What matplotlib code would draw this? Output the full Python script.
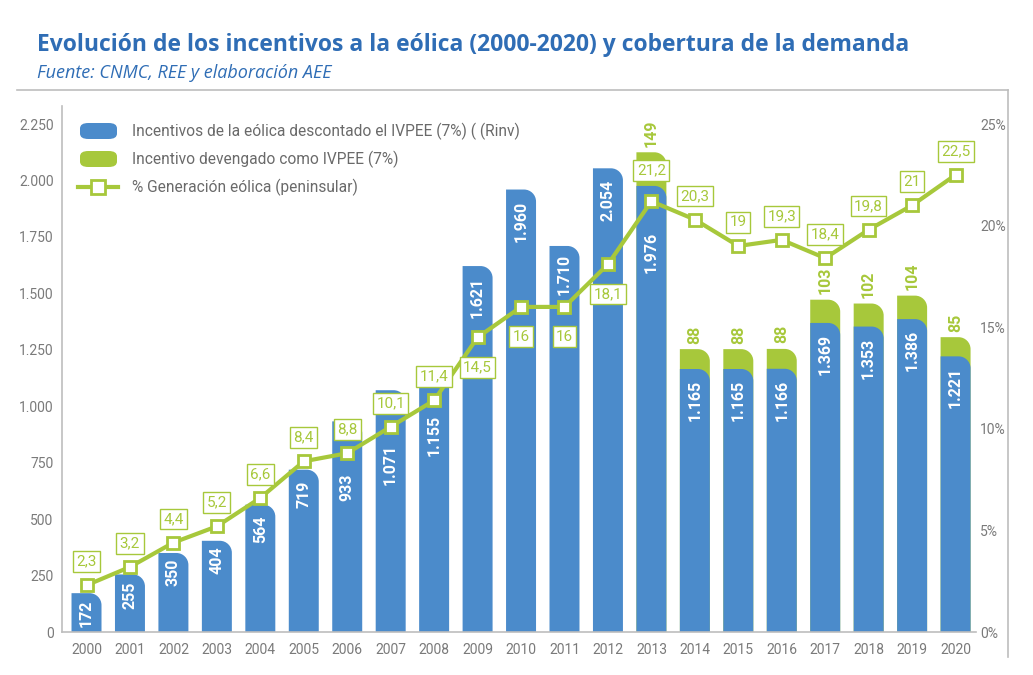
import matplotlib
matplotlib.use('Agg')
from matplotlib import pyplot as plt
from matplotlib.path import Path
from matplotlib.patches import PathPatch, FancyBboxPatch
from matplotlib.lines import Line2D

years = [str(y) for y in range(2000, 2021)]
incentivo = [172, 255, 350, 404, 564, 719, 933, 1071, 1155, 1621, 1960,
             1710, 2054, 1976, 1165, 1165, 1166, 1369, 1353, 1386, 1221]
ivpee = [0, 0, 0, 0, 0, 0, 0, 0, 0, 0, 0, 0, 0,
         149, 88, 88, 88, 103, 102, 104, 85]
generacion = [2.3, 3.2, 4.4, 5.2, 6.6, 8.4, 8.8, 10.1, 11.4, 14.5, 16,
              16, 18.1, 21.2, 20.3, 19, 19.3, 18.4, 19.8, 21, 22.5]
left_ticks = [0, 250, 500, 750, 1000, 1250, 1500, 1750, 2000, 2250]
right_ticks = [0, 5, 10, 15, 20, 25]

BLUE = '#4b8bcb'
GREEN = '#a7c83b'
TITLE = '#2f6db5'
GREY = '#7a7a7a'
FRAME = '#bdbdbd'

plt.rcParams['font.family'] = ['Roboto', 'DejaVu Sans']

W, H = 1033, 675
fig = plt.figure(figsize=(W / 100, H / 100), dpi=100)

ax_l, ax_r, ax_b, ax_t = 62, 976, 632, 106
ax = fig.add_axes([ax_l / W, 1 - ax_b / H, (ax_r - ax_l) / W, (ax_b - ax_t) / H])
ymax = 2330
ax.set_xlim(-0.564, 20.47)
ax.set_ylim(0, ymax)
ax2 = ax.twinx()
ax2.set_ylim(0, ymax / 2250 * 25)

# pixel scale for rounded corners
p0 = ax.transData.transform((0, 0))
p1 = ax.transData.transform((1, 1))
px_x = p1[0] - p0[0]
px_y = p1[1] - p0[1]


def round_bar(x, bottom, top, width, color, r_px=12):
    x0 = x - width / 2
    x1 = x + width / 2
    rx = min(r_px / px_x, width / 2)
    ry = min(r_px / px_y, (top - bottom))
    k = 0.5523
    verts = [(x0, bottom), (x1, bottom), (x1, top - ry),
             (x1, top - ry + k * ry), (x1 - rx + k * rx, top), (x1 - rx, top),
             (x0, top), (x0, bottom)]
    codes = [Path.MOVETO, Path.LINETO, Path.LINETO,
             Path.CURVE4, Path.CURVE4, Path.CURVE4,
             Path.LINETO, Path.CLOSEPOLY]
    ax.add_patch(PathPatch(Path(verts, codes), facecolor=color, edgecolor='none', zorder=2))


# label gap below the bar top, px (pushed down where the line crosses)
label_shift = {0: 6, 1: 7, 2: 6, 3: 6, 6: 52, 7: 54, 8: 44, 11: 8, 13: 46}

bw = 0.69
for i, (b, g) in enumerate(zip(incentivo, ivpee)):
    if g > 0:
        round_bar(i, 0, b + g, bw, GREEN)
        ax.annotate(str(g), (i, b + g), xytext=(0, 4), textcoords='offset points',
                    rotation=90, ha='center', va='bottom', color=GREEN,
                    fontsize=11.5, fontweight='bold', zorder=3)
    round_bar(i, 0, b, bw, BLUE)
    shift = label_shift.get(i, 11) * 0.72
    ax.annotate('{:,}'.format(b).replace(',', '.'), (i, b), xytext=(0, -shift),
                textcoords='offset points', rotation=90, ha='center', va='top',
                color='white', fontsize=11.5, fontweight='bold', zorder=3)

ax.set_xticks(range(len(years)))
ax.set_xticklabels(years)
ax.set_yticks(left_ticks)
ax.set_yticklabels(['{:,}'.format(v).replace(',', '.') for v in left_ticks])
ax.tick_params(axis='both', length=0, colors=GREY, labelsize=10)
ax.tick_params(axis='x', pad=8)
ax.tick_params(axis='y', pad=6)
for s in ['top', 'right']:
    ax.spines[s].set_visible(False)
ax.spines['left'].set_color(FRAME)
ax.spines['bottom'].set_color(FRAME)
ax.spines['left'].set_linewidth(1.2)
ax.spines['bottom'].set_linewidth(1.2)

# line on right axis
x = list(range(len(generacion)))
ax2.plot(x, generacion, color=GREEN, lw=3, marker='s', ms=9, mfc='white',
         mec=GREEN, mew=2, zorder=5)
below = {9, 10, 11, 12}
for i, v in enumerate(generacion):
    txt = ('%g' % v).replace('.', ',')
    if i in below:
        dy = -21.5
    elif i == 13:
        dy = 22
    else:
        dy = 17
    ax2.annotate(txt, (i, v), xytext=(0, dy), textcoords='offset points',
                 ha='center', va='center', color=GREEN, fontsize=11, zorder=6,
                 bbox=dict(boxstyle='square,pad=0.22', fc='white', ec=GREEN, lw=1))
ax2.set_yticks(right_ticks)
ax2.set_yticklabels(['%d%%' % v for v in right_ticks])
ax2.tick_params(axis='y', length=0, colors=GREY, labelsize=10, pad=3)
for s in ['top', 'right', 'left', 'bottom']:
    ax2.spines[s].set_visible(False)

# frame
fig.add_artist(Line2D([17 / W, 1008 / W], [1 - 90 / H, 1 - 90 / H], color=FRAME, lw=1.2))
fig.add_artist(Line2D([1008 / W, 1008 / W], [1 - 90 / H, 1 - 657 / H], color=FRAME, lw=1.2))

# legend
labels = ['Incentivos de la eólica descontado el IVPEE (7%) ( (Rinv)',
          'Incentivo devengado como IVPEE (7%)',
          '% Generación eólica (peninsular)']
rows = [131, 159, 187]
for col, y in zip([BLUE, GREEN], rows[:2]):
    fig.add_artist(FancyBboxPatch((80 / W, 1 - (y + 8) / H), 37 / W, 16 / H,
                                  boxstyle='round,pad=0,rounding_size=0.008',
                                  fc=col, ec='none', transform=fig.transFigure))
fig.add_artist(Line2D([78 / W, 118 / W], [1 - rows[2] / H] * 2, color=GREEN, lw=3))
fig.add_artist(Line2D([98 / W], [1 - rows[2] / H], color=GREEN, marker='s', ms=10,
                      mfc='white', mec=GREEN, mew=2))
for lab, y in zip(labels, rows):
    fig.text(132 / W, 1 - y / H, lab, ha='left', va='center', color='#6a6a6a',
             fontsize=11.2)

fig.text(37 / W, 1 - 45 / H, 'Evolución de los incentivos a la eólica (2000-2020) y cobertura de la demanda',
         ha='left', va='center', color=TITLE, fontsize=16.5, fontweight='bold',
         family=['Open Sans', 'DejaVu Sans'])
fig.text(37 / W, 1 - 73 / H, 'Fuente: CNMC, REE y elaboración AEE', ha='left',
         va='center', color=TITLE, fontsize=13, style='italic',
         family=['Open Sans', 'DejaVu Sans'])

fig.savefig('out.png', dpi=100)
